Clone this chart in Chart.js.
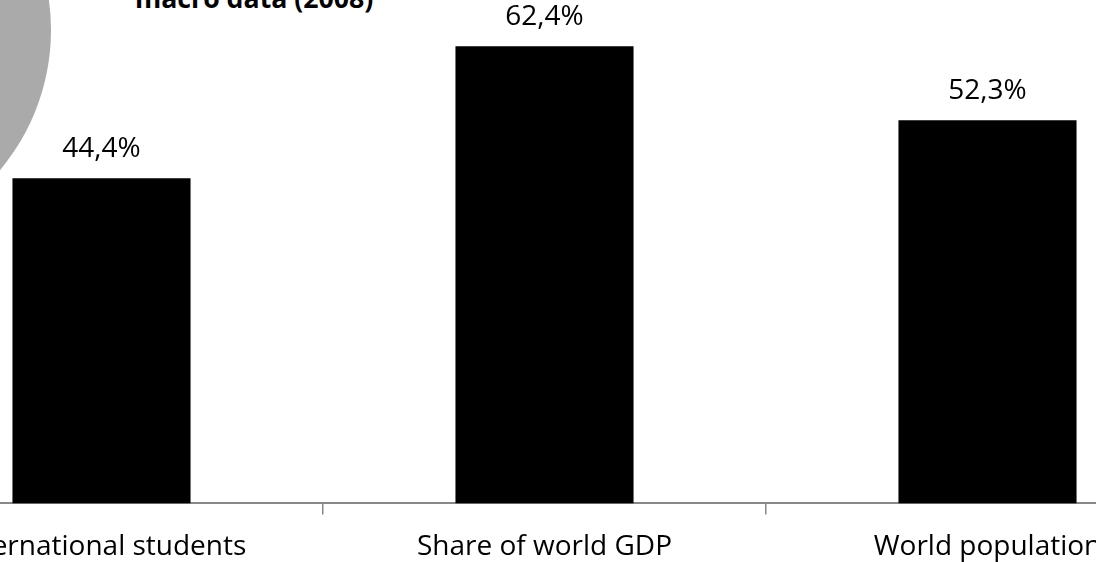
<!DOCTYPE html>
<html>
<head>
<meta charset="utf-8">
<script src="https://cdn.jsdelivr.net/npm/chart.js@4"></script>
<style>
  html, body { margin: 0; padding: 0; overflow: hidden; background: #fff; }
  body { width: 1096px; height: 562px; position: relative; }
  #blob {
    position: absolute; left: -385px; top: -188px;
    width: 436px; height: 436px; border-radius: 50%;
    background: #aaaaaa;
  }
  #title {
    position: absolute; left: 135px; top: -21px;
    font-family: "Open Sans", sans-serif; font-weight: bold; font-size: 26.7px;
    color: #000; white-space: nowrap;
  }
  #wrap { position: absolute; left: -120px; top: -46px; width: 1329px; height: 626px; }
</style>
</head>
<body>
<div id="blob"></div>
<div id="title">macro data (2008)</div>
<div id="wrap"><canvas id="barChart"></canvas></div>
<script>
// Chart data
const categories = ['International students', 'Share of world GDP', 'World population'];
const shares = [44.4, 62.4, 52.3];

// Draws the value above each bar, e.g. "44,4%"
const valueLabels = {
    id: 'valueLabels',
    afterDatasetsDraw(chart) {
        const ctx = chart.ctx;
        const meta = chart.getDatasetMeta(0);
        ctx.save();
        ctx.font = '28px "Open Sans", sans-serif';
        ctx.fillStyle = '#000';
        ctx.textAlign = 'center';
        ctx.textBaseline = 'alphabetic';
        meta.data.forEach((bar, i) => {
            const txt = shares[i].toFixed(1).replace('.', ',') + '%';
            ctx.fillText(txt, bar.x, bar.y - 21);
        });
        ctx.restore();
    }
};

const ctx = document.getElementById('barChart').getContext('2d');
const barChart = new Chart(ctx, {
    type: 'bar',
    data: {
        labels: categories,
        datasets: [{
            data: shares,
            backgroundColor: '#000000',
            borderWidth: 0,
            categoryPercentage: 1.0,
            barPercentage: 0.402
        }]
    },
    options: {
        responsive: true,
        maintainAspectRatio: false,
        animation: false,
        layout: { padding: 0 },
        plugins: {
            legend: { display: false },
            tooltip: { enabled: false }
        },
        scales: {
            x: {
                grid: {
                    offset: true,
                    drawOnChartArea: false,
                    color: '#888888',
                    lineWidth: 1.5,
                    tickLength: 11
                },
                border: { color: '#888888', width: 2 },
                ticks: {
                    color: '#000',
                    padding: 16,
                    maxRotation: 0,
                    autoSkip: false,
                    font: { family: '"Open Sans", sans-serif', size: 28 }
                }
            },
            y: {
                display: false,
                min: 0,
                max: 75
            }
        }
    },
    plugins: [valueLabels]
});
</script>
</body>
</html>
